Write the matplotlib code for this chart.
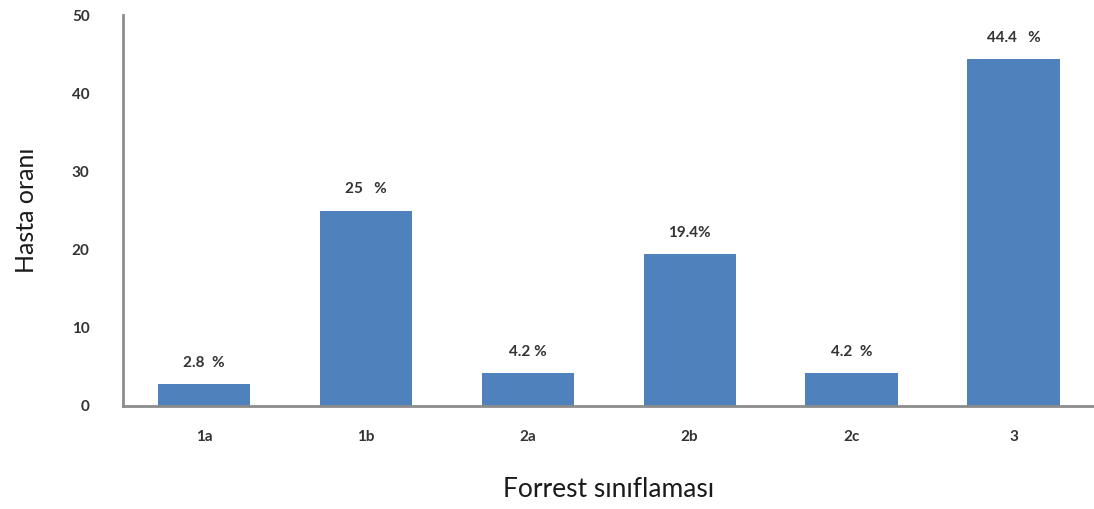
import matplotlib.pyplot as plt

plt.rcParams['font.family'] = ['Lato', 'DejaVu Sans']

categories = ["1a", "1b", "2a", "2b", "2c", "3"]
values = [2.8, 25, 4.2, 19.4, 4.2, 44.4]
labels = ["2.8  %", "25   %", "4.2 %", "19.4%", "4.2  %", "44.4   %"]

fig = plt.figure(figsize=(10.94, 5.09), dpi=100)
ax = fig.add_axes([0.1124, 0.2024, 0.888, 0.768])

x = range(len(categories))
bars = ax.bar(x, values, width=0.57, color="#4f81bd")

for b, lab in zip(bars, labels):
    ax.text(b.get_x() + b.get_width() / 2, b.get_height() + 1.8, lab,
            ha="center", va="bottom", fontsize=11, fontweight="bold",
            color="#333333")

ax.set_xlim(-0.5, 5.5)
ax.set_ylim(0, 50)
ax.set_yticks([0, 10, 20, 30, 40, 50])
ax.set_xticks(list(x))
ax.set_xticklabels(categories)
ax.tick_params(axis="both", length=0, labelsize=11, colors="#333333")
ax.tick_params(axis="y", pad=24)
ax.tick_params(axis="x", pad=17)
for t in ax.get_xticklabels() + ax.get_yticklabels():
    t.set_fontweight("bold")

for side in ("top", "right"):
    ax.spines[side].set_visible(False)
for side in ("left", "bottom"):
    ax.spines[side].set_color("#8c8c8c")
    ax.spines[side].set_linewidth(2)

ax.set_ylabel("Hasta oranı", fontsize=18, labelpad=24, color="#1a1a1a")
ax.set_xlabel("Forrest sınıflaması", fontsize=19, labelpad=24, color="#1a1a1a")

fig.savefig("out.png", dpi=100)
